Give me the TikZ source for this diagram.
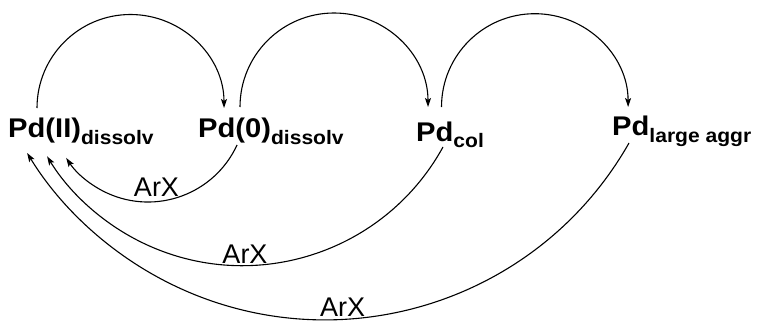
\documentclass[tikz,border=0pt]{standalone}
\usepackage{fontspec}
\usetikzlibrary{arrows.meta}
\newfontfamily\lblfont[FakeStretch=1.08]{Liberation Sans}
\newfontfamily\arxfont{Liberation Sans}
\newcommand\spcsub[1]{\raisebox{-6.5pt}{\fontsize{19.5pt}{19.5pt}\selectfont #1}}
\tikzset{
  species/.style={anchor=base west, inner sep=0pt,
    font={\lblfont\bfseries\fontsize{27pt}{27pt}\selectfont}},
  reagent/.style={anchor=base, inner sep=0pt,
    font={\arxfont\fontsize{27pt}{27pt}\selectfont}},
  flow/.style={line width=1.1pt, -{Stealth[length=9pt,width=6pt,inset=2pt]}}
}
\begin{document}
\begin{tikzpicture}[x=1pt,y=1pt]
  \useasboundingbox (0,0) rectangle (759,322);
  % species
  \node[species] (pd2)  at (8,184.5)   {Pd(II)\spcsub{dissolv}};
  \node[species] (pd0)  at (198,184.5) {Pd(0)\spcsub{dissolv}};
  \node[species] (pdc)  at (416,181)   {Pd\spcsub{col}};
  \node[species] (pdl)  at (612,186.5) {Pd\spcsub{large aggr}};
  % end points of the arcs
  \coordinate (t1) at (37,214);
  \coordinate (t2) at (240,215);
  \coordinate (t3) at (441.5,215);
  \coordinate (b1) at (237.05,177.05);
  \coordinate (b2) at (443,175);
  \coordinate (b3) at (629,179);
  % aggregation steps over the top
  \draw[flow] (t1) arc[start angle=180, end angle=0, radius=93.5];
  \draw[flow] (t2) arc[start angle=180, end angle=0, radius=94];
  \draw[flow] (t3) arc[start angle=180, end angle=0, radius=93.3];
  % oxidative addition back to Pd(II) underneath
  \draw[flow] (b1) arc[start angle=-24.7, end angle=-146.6, radius=98];
  \draw[flow] (b2) arc[start angle=-28.8, end angle=-148.5, radius=229];
  \draw[flow] (b3) arc[start angle=-29.6, end angle=-148.5, radius=349.5];
  % reagent labels
  \node[reagent] (x1) at (156.5,125.3) {ArX};
  \node[reagent] (x2) at (245,59) {ArX};
  \node[reagent] (x3) at (342.5,6) {ArX};
\end{tikzpicture}
\end{document}
